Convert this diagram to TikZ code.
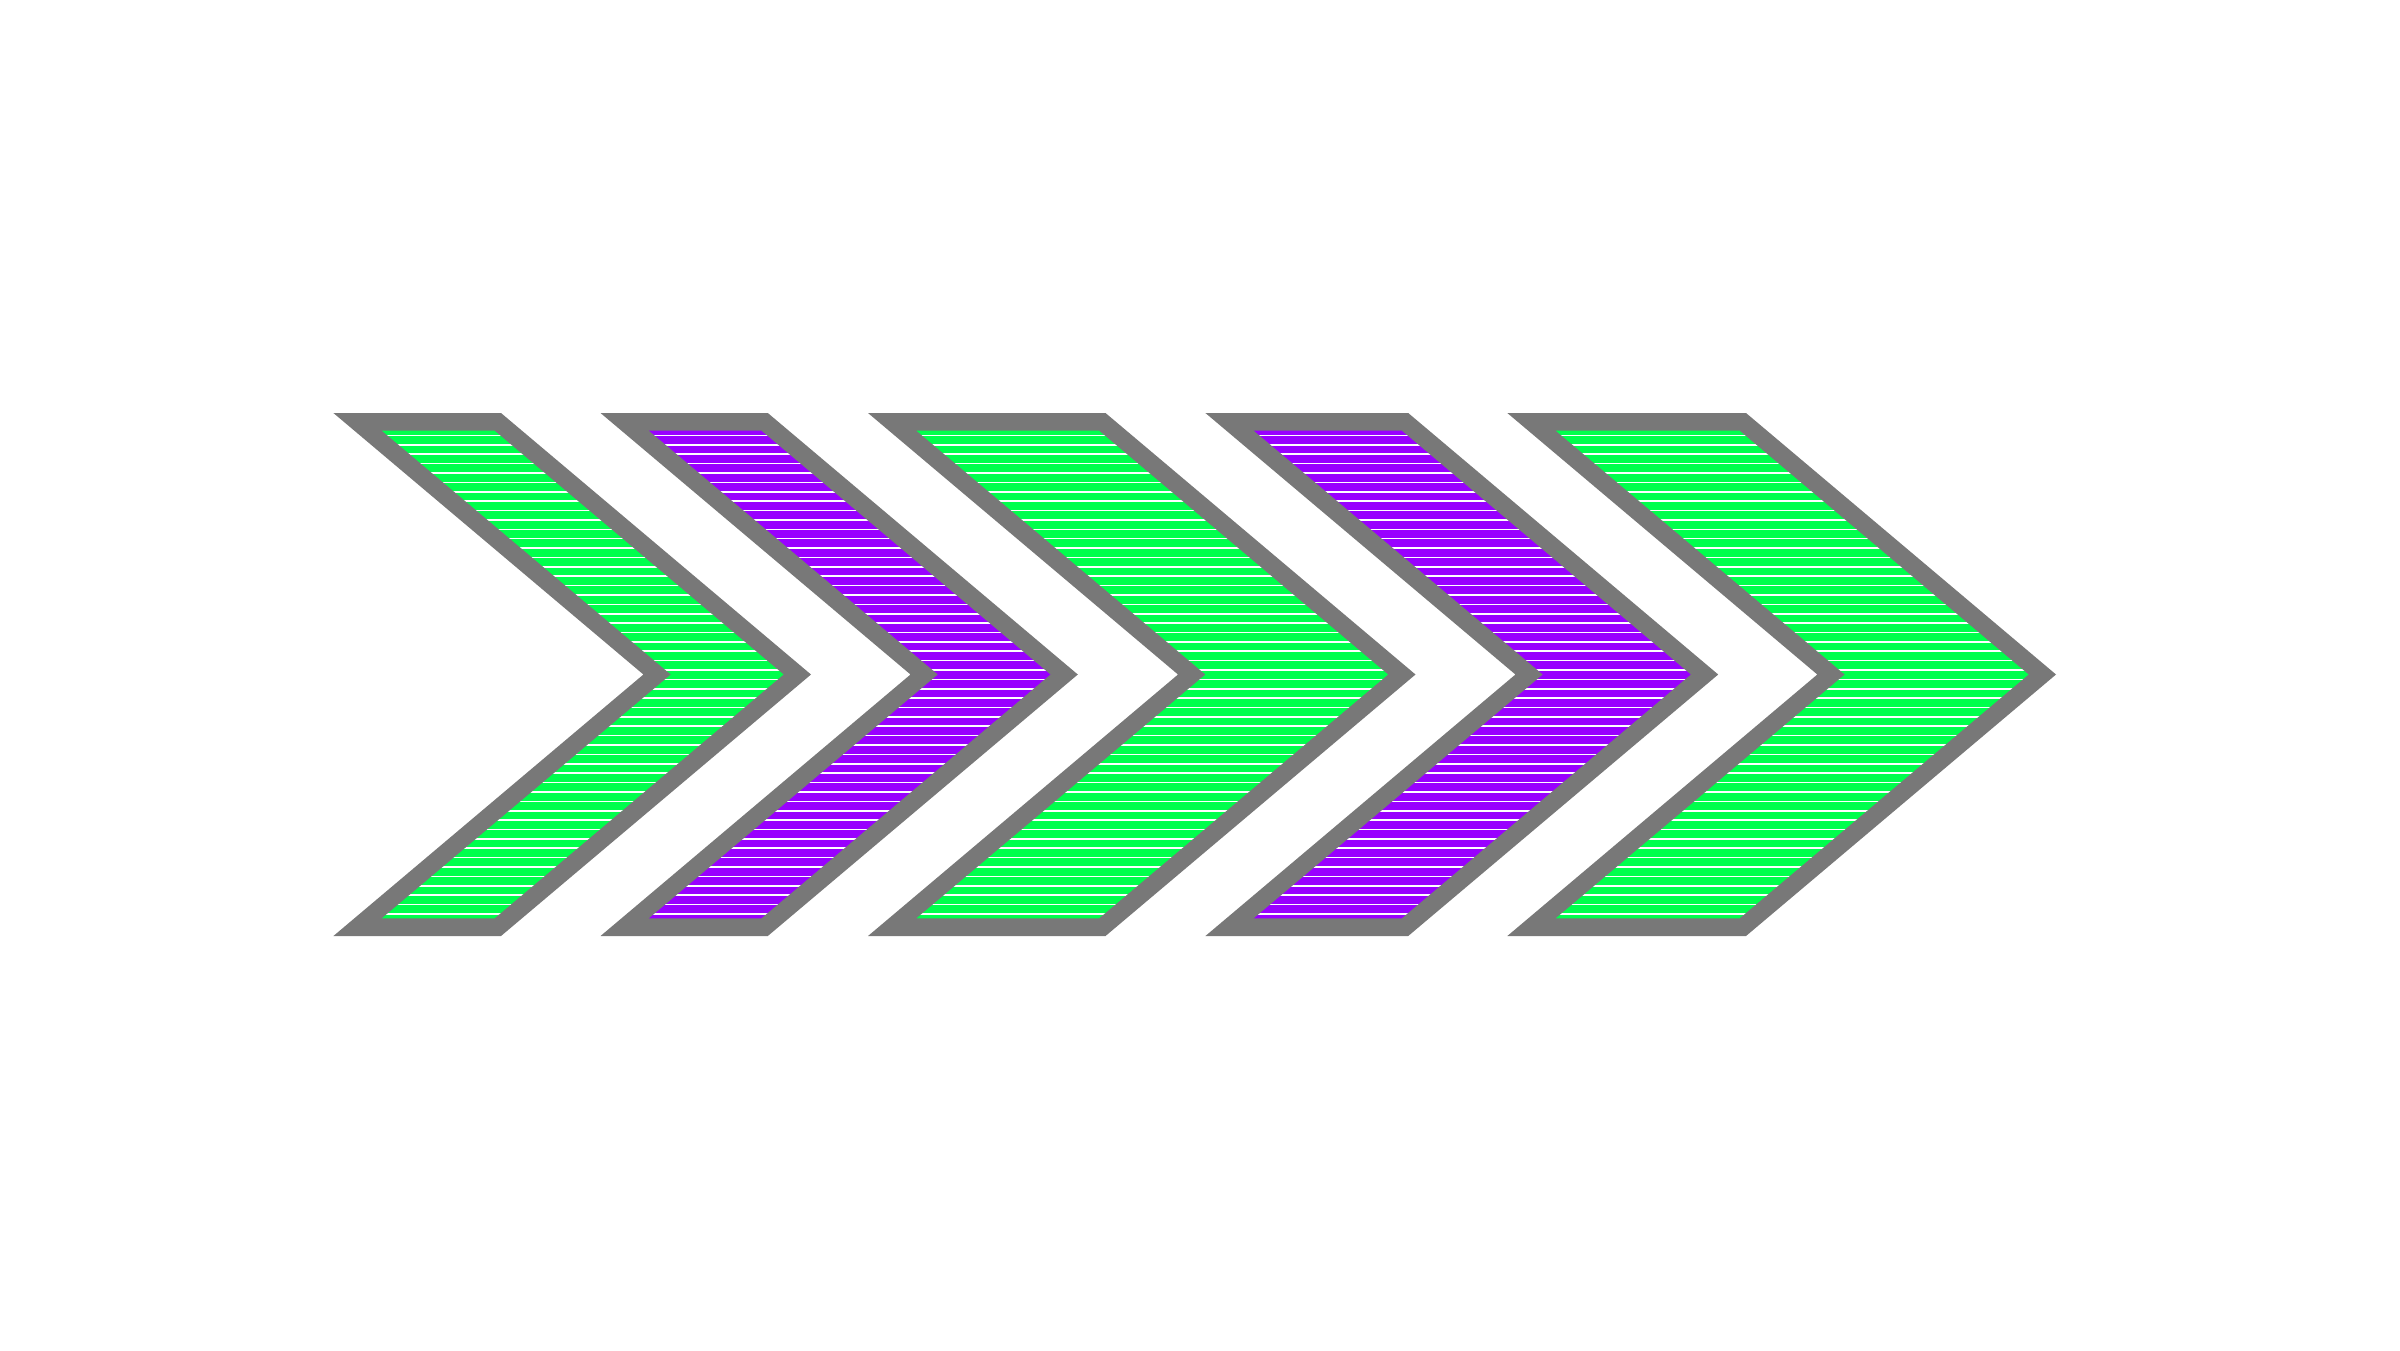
\documentclass[tikz,border=0pt]{standalone}
\definecolor{cgreen}{RGB}{0,255,76}
\definecolor{cpurple}{RGB}{153,0,255}
\definecolor{cgray}{RGB}{120,120,120}
\tikzset{
  outline/.style={fill=cgray},
  hatchline/.style={white,line width=1.6pt}
}
\newcommand{\chevshape}[3]{%
  \fill[outline] (#1,413) -- (#2,413) -- ({#2+310},674.5) -- (#2,936) -- (#1,936) -- ({#1+310},674.5) -- cycle;
  \begin{scope}
    \clip ({#1+48.5},430.7) -- ({#2-6.5},430.7) -- ({#2+282.5},674.5) -- ({#2-6.5},918.3) -- ({#1+48.5},918.3) -- ({#1+337.5},674.5) -- cycle;
    \fill[#3] (#1,413) rectangle ({#2+310},936);
    \foreach \i in {0,...,52} \draw[hatchline] (#1,{435.5+9.38*\i}) -- ({#2+310},{435.5+9.38*\i});
  \end{scope}}
\begin{document}
\begin{tikzpicture}[x=1pt,y=-1pt]
\useasboundingbox (0,0) rectangle (2400,1350);
\chevshape{333.4}{501}{cgreen}
\chevshape{600.5}{767.8}{cpurple}
\chevshape{868}{1105.5}{cgreen}
\chevshape{1205.4}{1408.2}{cpurple}
\chevshape{1507.3}{1746}{cgreen}
\end{tikzpicture}
\end{document}
